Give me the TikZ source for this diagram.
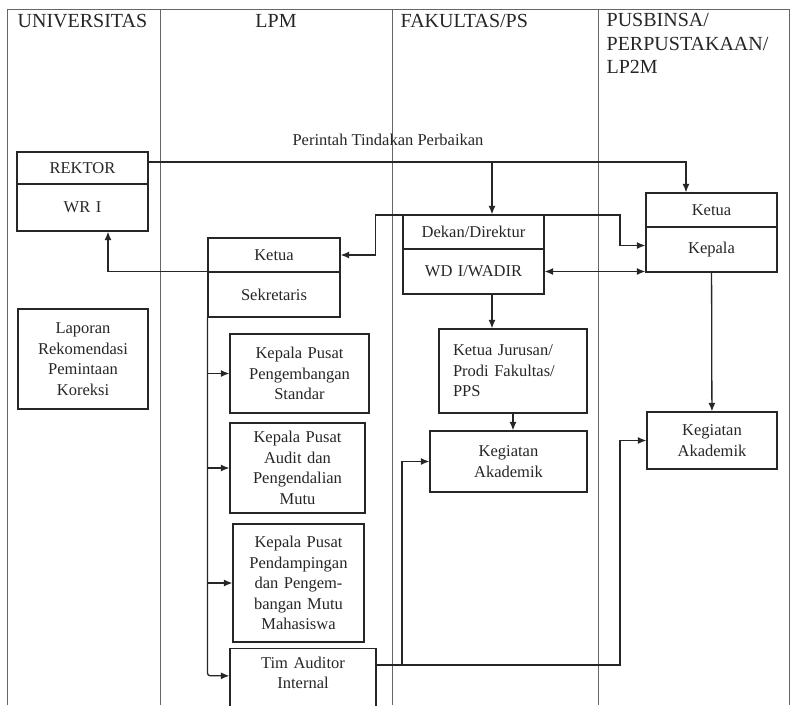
\documentclass[tikz,border=0pt]{standalone}
\usepackage{fontspec}
\setmainfont{Liberation Serif}
\usetikzlibrary{arrows.meta}
\tikzset{
  box/.style={draw, align=center, inner sep=4pt, line width=1.2pt},
  hd/.style={font=\fontsize{20}{23.5}\selectfont, inner sep=0pt}
}
\begin{document}
\begin{tikzpicture}[x=1pt, y=-1pt, >={Latex[length=8.5pt,width=7pt]}, line width=1.3pt, color=black!85, font=\fontsize{16.5}{20.5}\selectfont]
\useasboundingbox (0,0) rectangle (793,705);
\clip (0,0) rectangle (793,705);
% lanes
\draw[line width=0.8pt, black!60] (7,705) -- (7,9) -- (789,9) -- (789,705);
\draw[line width=0.8pt, black!60] (160,9) -- (160,705);
\draw[line width=0.8pt, black!60] (392,9) -- (392,705);
\draw[line width=0.8pt, black!60] (598,9) -- (598,705);
\node[hd, anchor=base west] (hu) at (17,27) {UNIVERSITAS};
\node[hd, anchor=base] (hl) at (276,27) {LPM};
\node[hd, anchor=base west] (hf) at (400,27) {FAKULTAS/PS};
\node[hd, anchor=north west, align=left] (hp) at (606,12.7) {PUSBINSA/\\PERPUSTAKAAN/\\LP2M};
% boxes
\node[box, text width=123pt, minimum height=32pt] (r) at (82.5,168) {REKTOR};
\node[box, text width=123pt, minimum height=47pt] (w) at (82.5,207.5) {WR I};
\node[box, text width=122pt, minimum height=100pt] (lap) at (83,359) {Laporan\\Rekomendasi\\Pemintaan\\Koreksi};
\node[box, text width=124pt, minimum height=34pt] (kl) at (274,255) {Ketua};
\node[box, text width=124pt, minimum height=45pt] (sk) at (274,294.5) {Sekretaris};
\node[box, text width=131pt, minimum height=79pt] (p1) at (299.5,373.5) {Kepala Pusat\\Pengembangan\\Standar};
\node[box, text width=127pt, minimum height=90pt] (p2) at (297.5,468) {Kepala Pusat\\Audit dan\\Pengendalian\\Mutu};
\node[box, text width=123pt, minimum height=118pt] (p3) at (298.5,583) {Kepala Pusat\\Pendampingan\\dan Pengem-\\bangan Mutu\\Mahasiswa};
\node[box, text width=138pt, inner ysep=8pt, anchor=north] (t) at (303,648) {Tim Auditor\\Internal\\\mbox{}};
\node[box, text width=133pt, minimum height=34pt] (dk) at (473.5,232) {Dekan/Direktur};
\node[box, text width=133pt, minimum height=45pt] (wd) at (473.5,271.5) {WD I/WADIR};
\node[box, align=left, text width=120pt, inner xsep=14pt, minimum height=84pt] (kj) at (513,371) {Ketua Jurusan/\\Prodi Fakultas/\\PPS};
\node[box, text width=149pt, minimum height=61pt] (kf) at (508.5,461.5) {Kegiatan\\Akademik};
\node[box, text width=123pt, minimum height=34pt] (kt) at (711.5,210) {Ketua};
\node[box, text width=123pt, minimum height=45pt] (kp) at (711.5,249.5) {Kepala};
\node[box, text width=122pt, minimum height=57pt] (kg) at (712,440.5) {Kegiatan\\Akademik};
\node (pt) at (388,140) {Perintah Tindakan Perbaikan};
% connectors
\coordinate (c1) at (492,162);
\coordinate (c2) at (686,162);
\coordinate (c3) at (402,665);
\coordinate (c4) at (620,665);
\coordinate (c5) at (620,215);
\draw[->] ([yshift=6pt]r.east) -- (c2) -- (c2 |- kt.north);
\draw[->] (c1) -- (c1 |- dk.north);
\draw[->] (c1 |- wd.south) -- (c1 |- kj.north);
\draw[->] (sk.north west) -| ([xshift=25.5pt]w.south);
\draw[<->] (kl.east) -- ++(35,0) |- (c5) |- ([yshift=4pt]kp.west);
\draw[<->, yshift=3pt] (wd.east) -- (wd.east -| kp.west);
\draw[->] (kj.south) -- (kj.south |- kf.north);
\draw[->] (kp) -- (kg);
\draw[->, rounded corners=3pt] (sk.south west) |- ([yshift=7pt]t.west);
\draw[->, yshift=-14.5pt] (sk.south west |- p1.west) -- (p1.west);
\draw[->, yshift=7pt] (sk.south west |- p2.west) -- (p2.west);
\draw[->, yshift=5pt] (sk.south west |- p3.west) -- (p3.west);
\draw[->] (t.east |- c3) -- (c3) |- (kf.west);
\draw[->] (c3) -- (c4) |- (kg.west);
\end{tikzpicture}
\end{document}
